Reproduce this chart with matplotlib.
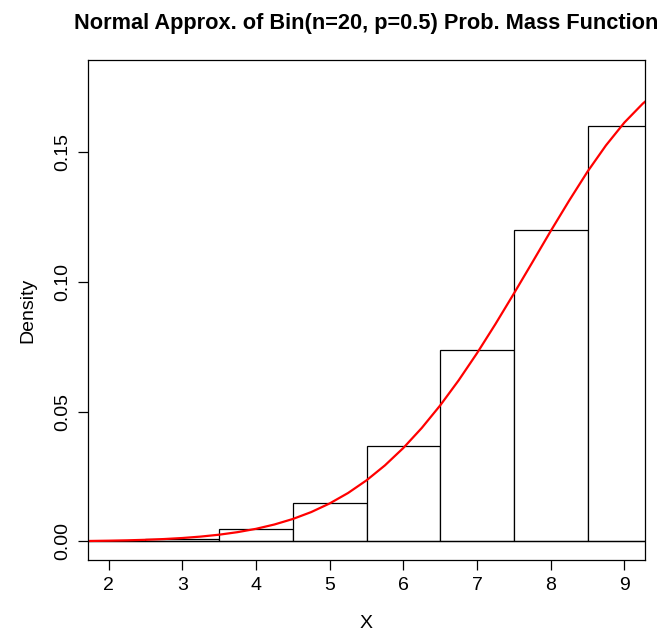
import numpy as np
import matplotlib
matplotlib.use("Agg")
import matplotlib.pyplot as plt

plt.rcParams['font.family'] = ['Liberation Sans', 'DejaVu Sans']

# bar heights (pmf of Bin(20, 0.5))
x_vals = [2, 3, 4, 5, 6, 7, 8, 9]
pmf = [0.00018, 0.00109, 0.00462, 0.01479, 0.03696, 0.07393, 0.1201, 0.1602]

# red curve, points
curve_x = [1.75, 2.0, 2.25, 2.5, 2.75, 3.0, 3.25, 3.5, 3.75, 4.0, 4.25, 4.5,
           4.75, 5.0, 5.25, 5.5, 5.75, 6.0, 6.25, 6.5, 6.75, 7.0, 7.25, 7.5,
           7.75, 8.0, 8.25, 8.5, 8.75, 9.0, 9.25, 9.3]
curve_y = [0.0002, 0.0003, 0.00044, 0.00064, 0.00093, 0.00133, 0.00188, 0.00261,
           0.00359, 0.00487, 0.00654, 0.00866, 0.01133, 0.01465, 0.01868, 0.02355,
           0.02931, 0.03602, 0.04373, 0.05242, 0.06205, 0.07254, 0.08376, 0.0955,
           0.1075, 0.1196, 0.1313, 0.1425, 0.1526, 0.1614, 0.1687, 0.1699]

xticks = [2, 3, 4, 5, 6, 7, 8, 9]
yticks = [0.0, 0.05, 0.10, 0.15]
ytick_labels = ["0.00", "0.05", "0.10", "0.15"]

fig = plt.figure(figsize=(6.69, 6.32), dpi=100)
ax = fig.add_axes([88 / 669, 72 / 632, 557 / 669, 500 / 632])

ax.bar(x_vals, pmf, width=1.0, facecolor='white', edgecolor='black', linewidth=0.9)
ax.axhline(0, color='black', linewidth=0.9)
ax.plot(curve_x, curve_y, color='#ff0000', linewidth=1.6)

ax.set_xlim(1.72, 9.28)
ax.set_ylim(-0.00714, 0.1855)
ax.set_xticks(xticks)
ax.set_yticks(yticks)
ax.set_yticklabels(ytick_labels, rotation=90, va='center')
ax.tick_params(labelsize=14, length=7, width=0.9, direction='out', pad=5)
for s in ax.spines.values():
    s.set_linewidth(0.9)

ax.set_xlabel('X', fontsize=14, labelpad=15)
ax.set_ylabel('Density', fontsize=14, labelpad=13)
ax.set_title('Normal Approx. of Bin(n=20, p=0.5) Prob. Mass Function',
             fontsize=15.7, fontweight='bold', pad=22)

fig.savefig('out.png', dpi=100)
